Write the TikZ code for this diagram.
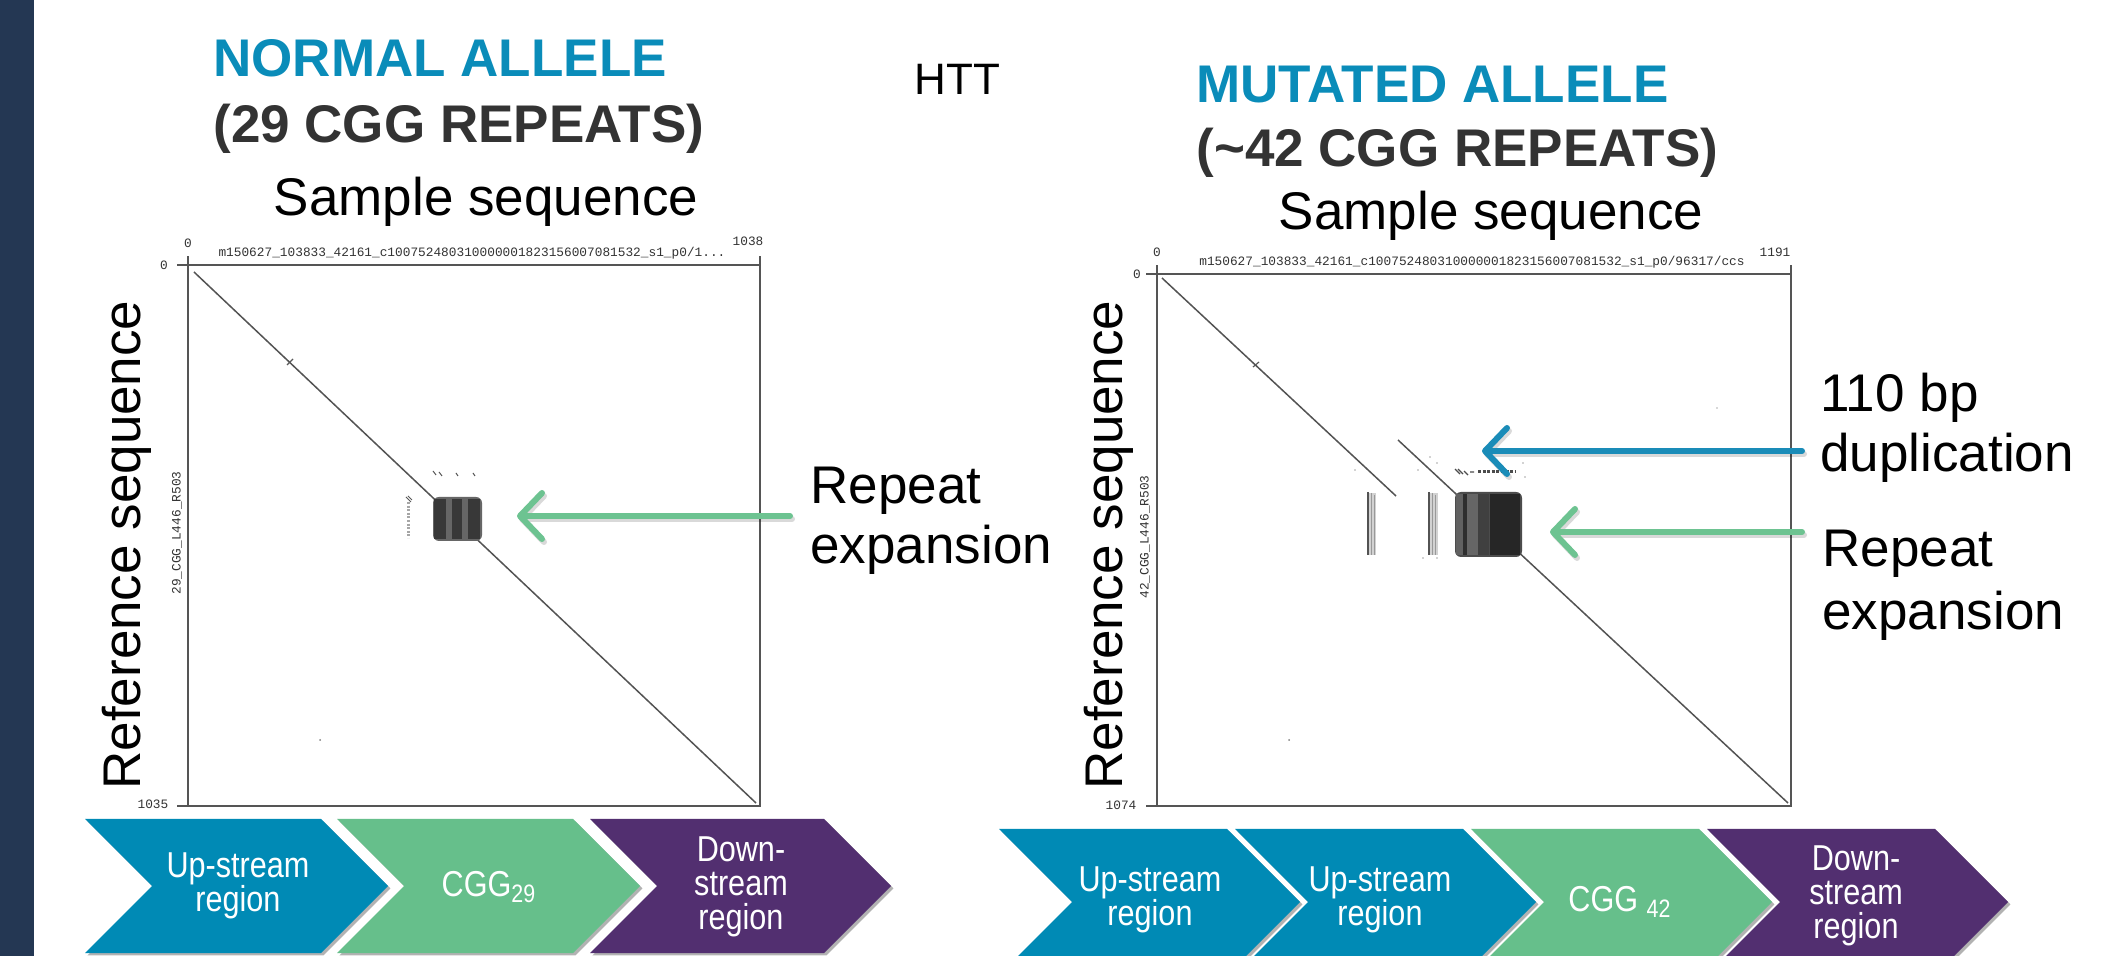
\documentclass[tikz,border=0pt]{standalone}
\usepackage{fontspec}
\setmainfont{Liberation Sans}
\newfontfamily\narrowfont[FakeStretch=0.85]{Liberation Sans}
\newfontfamily\monofont{Liberation Mono}
\usetikzlibrary{arrows.meta,shadows}
\definecolor{sidebar}{HTML}{243753}
\definecolor{tealblue}{HTML}{0A8CB9}
\definecolor{chevblue}{HTML}{008AB5}
\definecolor{chevgreen}{HTML}{66BF8B}
\definecolor{chevpurple}{HTML}{522F70}
\definecolor{titlegray}{HTML}{333333}
\definecolor{arrowgreen}{HTML}{6DC391}
\definecolor{arrowblue}{HTML}{1A8CB8}
\definecolor{plotgray}{HTML}{555555}
\newcommand{\chevronpath}[5]{%
  \fill[#5, chevshadow] (#1,#2) -- ++(#3,0) -- ++(#4,#4) -- ++(-#4,#4) -- ++(-#3,0) -- ++(#4,-#4) -- cycle;}
\tikzset{
  titletext/.style={font=\bfseries\fontsize{26.5}{30}\selectfont, text=tealblue, inner sep=0, anchor=base west},
  subtitletext/.style={font=\bfseries\fontsize{26.5}{30}\selectfont, text=titlegray, inner sep=0, anchor=base west},
  bigtext/.style={font=\fontsize{26.5}{30}\selectfont, inner sep=0},
  monotext/.style={font=\monofont\fontsize{6.4}{7}\selectfont, inner sep=0, text=black!80},
  plotframe/.style={draw=plotgray, line width=1pt},
  diagline/.style={draw=gray!65!black, line width=0.75pt},
  chevshadow/.style={drop shadow={shadow xshift=1.2pt, shadow yshift=-1.2pt, fill=black, opacity=0.3}},
  chevtext/.style={text=white, font=\narrowfont\fontsize{18}{17}\selectfont, align=center, inner sep=0},
  fatarrow/.style={line width=3pt, line cap=round, -{Straight Barb[length=11pt,width=23pt,round]}},
  arrowshade/.style={line width=3pt, line cap=round, draw=black, opacity=0.15, -{Straight Barb[length=11pt,width=23pt,round]}},
}
\begin{document}
\begin{tikzpicture}[x=0.5pt,y=-0.5pt]
\useasboundingbox (0,0) rectangle (2117,956);
\clip (0,0) rectangle (2117,956);
\fill[white] (0,0) rectangle (2117,956);
\fill[sidebar] (0,0) rectangle (34,956);

% titles
\node[titletext] (t1) at (213,77) {NORMAL ALLELE};
\node[subtitletext] (t2) at (213,143) {(29 CGG REPEATS)};
\node[bigtext, anchor=base west, font=\fontsize{22}{26}\selectfont] (htt) at (914,95) {HTT};
\node[titletext] (t3) at (1196,103) {MUTATED ALLELE};
\node[subtitletext] (t4) at (1196,167) {(\textasciitilde42 CGG REPEATS)};

\node[bigtext, anchor=base] (s1) at (486,216) {Sample sequence};
\node[bigtext, anchor=base] (s2) at (1491,230) {Sample sequence};
\node[bigtext, rotate=90] (r1) at (127,545) {Reference sequence};
\node[bigtext, rotate=90] (r2) at (1109,545) {Reference sequence};

% ---------- left dot plot ----------
\node[monotext] (l0t) at (188,243) {0};
\node[monotext] (lmt) at (748,241) {1038};
\node[monotext] (lhd) at (472,253) {m150627\_103833\_42161\_c100752480310000001823156007081532\_s1\_p0/1...};
\node[monotext] (l0l) at (164,265) {0};
\node[monotext] (lml) at (153,804) {1035};
\node[monotext, rotate=90] (lvl) at (177,533) {29\_CGG\_L446\_R503};
\draw[plotframe] (188,265) rectangle (760,806);
\draw[plotframe] (188,265) -- (188,256) (760,265) -- (760,256) (188,265) -- (177,265) (188,806) -- (177,806);
\draw[diagline] (194,272) -- (756,803);
\draw[gray!70!black, line width=0.6pt] (287,365) -- (293,359);
\fill[gray] (320,740) circle (1);
\fill[black!60, rounded corners=3] (433,497) rectangle (482,541);
\fill[black!78] (434,499) rectangle (446,539);
\fill[black!78] (452,499) rectangle (462,539);
\fill[black!78] (468,499) rectangle (480,539);
\draw[gray!70!black, line width=0.5pt] (433,471) -- (436,475) (439,472) -- (442,476) (456,473) -- (458,476) (473,473) -- (475,476);
\draw[gray!70, line width=1.5pt, dash pattern=on 1pt off 0.8pt] (408,502) -- (408,538);
\draw[gray!70!black, line width=0.5pt] (406,497) -- (411,502) (408,496) -- (412,500);

\coordinate (ga1s) at (790,516);
\coordinate (ga1e) at (517,516);
\draw[arrowshade] ([shift={(2,3)}]ga1s) -- ([shift={(2,3)}]ga1e);
\draw[fatarrow, draw=arrowgreen] (ga1s) -- (ga1e);
\node[bigtext, anchor=base west] (re1a) at (810,504) {Repeat};
\node[bigtext, anchor=base west] (re1b) at (810,564) {expansion};

% ---------- right dot plot ----------
\node[monotext] (r0t) at (1157,252) {0};
\node[monotext] (rmt) at (1775,252) {1191};
\node[monotext] (rhd) at (1472,262) {m150627\_103833\_42161\_c100752480310000001823156007081532\_s1\_p0/96317/ccs};
\node[monotext] (r0l) at (1137,274) {0};
\node[monotext] (rml) at (1121,805) {1074};
\node[monotext, rotate=90] (rvl) at (1145,537) {42\_CGG\_L446\_R503};
\draw[plotframe] (1157,274) rectangle (1791,806);
\draw[plotframe] (1157,274) -- (1157,265) (1791,274) -- (1791,265) (1157,274) -- (1146,274) (1157,806) -- (1146,806);
\draw[diagline] (1162,278) -- (1396,496);
\draw[diagline] (1398,440) -- (1788,803);
\draw[gray!70!black, line width=0.6pt] (1253,367) -- (1259,362);
\fill[gray] (1289,740) circle (1);
\fill[gray!60] (1717,408) circle (0.8);
% hatched bars
\fill[gray!35] (1367,493) rectangle (1376,555);
\draw[gray!65!black, line width=0.6pt] (1368,492) -- (1368,555);
\draw[gray!80, line width=0.4pt] (1371,493) -- (1371,555) (1374,495) -- (1374,555);
\fill[gray!35] (1428,493) rectangle (1438,555);
\draw[gray!65!black, line width=0.6pt] (1429,492) -- (1429,555);
\draw[gray!80, line width=0.4pt] (1432,493) -- (1432,555) (1435,495) -- (1435,555);
% block
\fill[black!70, rounded corners=3] (1455,492) rectangle (1522,557);
\fill[black!62] (1456,494) rectangle (1463,555);
\fill[black!82] (1463,494) rectangle (1467,555);
\fill[black!60] (1467,494) rectangle (1478,555);
\fill[black!75] (1478,494) rectangle (1489,555);
\fill[black!85] (1490,494) rectangle (1520,555);
% dashes row
\draw[gray!60!black, line width=1.5pt, dash pattern=on 1.5pt off 0.8pt] (1478,472) -- (1516,472);
\draw[gray!60!black, line width=0.6pt] (1455,469) -- (1460,474) (1458,469) -- (1463,474) (1464,471) -- (1468,475) (1470,472) -- (1474,472);
\foreach \px/\py in {1355/470,1437/463,1430/457,1523/463,1525/477,1418/470,1423/558,1437/558}
  \fill[gray!70] (\px,\py) circle (0.9);

\coordinate (ba1s) at (1802,451);
\coordinate (ba1e) at (1482,451);
\draw[arrowshade] ([shift={(2,3)}]ba1s) -- ([shift={(2,3)}]ba1e);
\draw[fatarrow, draw=arrowblue] (ba1s) -- (ba1e);
\coordinate (ga2s) at (1802,532);
\coordinate (ga2e) at (1550,532);
\draw[arrowshade] ([shift={(2,3)}]ga2s) -- ([shift={(2,3)}]ga2e);
\draw[fatarrow, draw=arrowgreen] (ga2s) -- (ga2e);
\node[bigtext, anchor=base west] (dup1) at (1820,412) {110 bp};
\node[bigtext, anchor=base west] (dup2) at (1820,472) {duplication};
\node[bigtext, anchor=base west] (re2a) at (1822,567) {Repeat};
\node[bigtext, anchor=base west] (re2b) at (1822,630) {expansion};

% ---------- chevrons ----------
\chevronpath{85}{819}{236}{67}{chevblue}
\chevronpath{337}{819}{236}{67}{chevgreen}
\chevronpath{590}{819}{234}{67}{chevpurple}
\node[chevtext] (c1) at (238,886) {Up-stream\\region};
\node[chevtext] (c2) at (489,887) {CGG\textsubscript{29}};
\node[chevtext] (c3) at (741,887) {Down-\\stream\\region};

\chevronpath{999}{829}{228}{73}{chevblue}
\chevronpath{1235}{829}{228}{73}{chevblue}
\chevronpath{1471}{829}{228}{73}{chevgreen}
\chevronpath{1707}{829}{228}{73}{chevpurple}
\node[chevtext] (c4) at (1150,900) {Up-stream\\region};
\node[chevtext] (c5) at (1380,900) {Up-stream\\region};
\node[chevtext] (c6) at (1620,902) {CGG \textsubscript{42}};
\node[chevtext] (c7) at (1856,896) {Down-\\stream\\region};
\end{tikzpicture}
\end{document}
